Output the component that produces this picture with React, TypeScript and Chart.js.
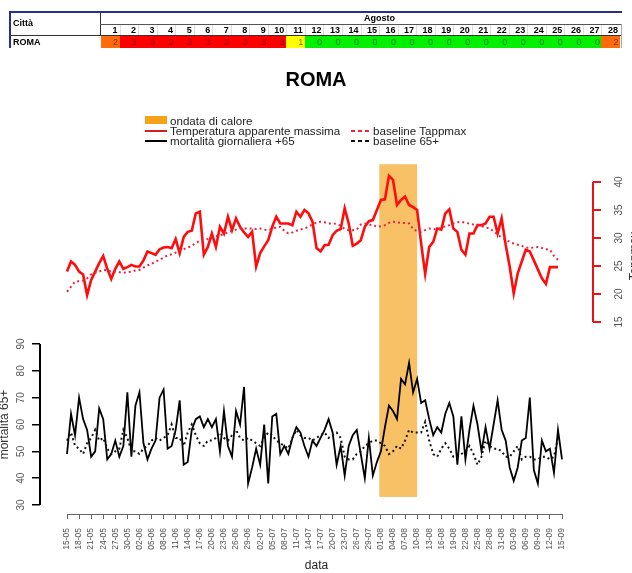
import React, { useEffect, useRef } from "react";
import { Chart, registerables } from "chart.js";

Chart.register(...registerables);
Chart.defaults.font.family = "'Liberation Sans', Arial, sans-serif";

// ---- table (heat-wave warning levels, August) ----
const tableDays = [1, 2, 3, 4, 5, 6, 7, 8, 9, 10, 11, 12, 13, 14, 15, 16, 17, 18, 19, 20, 21, 22, 23, 24, 25, 26, 27, 28];
const romaLevels = [2, 3, 3, 3, 3, 3, 3, 3, 3, 3, 1, 0, 0, 0, 0, 0, 0, 0, 0, 0, 0, 0, 0, 0, 0, 0, 0, 2];
const levelColors = ["#00f000", "#ffff00", "#ff6a0a", "#ff0000"];
const levelText = ["#1f7a1f", "#7a7a00", "#8a3500", "#8a0000"];

// ---- x axis tick labels (every 3 days, 15-05 .. 15-09) ----
const tickLabels = [
  "15-05", "18-05", "21-05", "24-05", "27-05", "30-05",
  "02-06", "05-06", "08-06", "11-06", "14-06", "17-06", "20-06", "23-06", "26-06", "29-06",
  "02-07", "05-07", "08-07", "11-07", "14-07", "17-07", "20-07", "23-07", "26-07", "29-07",
  "01-08", "04-08", "07-08", "10-08", "13-08", "16-08", "19-08", "22-08", "25-08", "28-08", "31-08",
  "03-09", "06-09", "09-09", "12-09", "15-09",
];

// ---- series (one value per day from 15-05) ----
const tappmax = [
  24.0, 25.8, 25.2, 24.0, 23.5, 19.8, 22.5, 24.0, 25.5, 26.8,
  24.5, 22.7, 24.5, 25.8, 24.5, 24.8, 25.2, 24.9, 24.9, 26.0,
  27.6, 27.3, 27.0, 28.0, 28.3, 28.4, 28.2, 29.8, 27.3, 30.2,
  31.1, 31.3, 34.4, 34.7, 27.0, 28.4, 30.8, 28.4, 32.0, 30.8,
  33.8, 31.4, 33.5, 32.0, 31.0, 30.2, 31.1, 24.9, 27.3, 28.5,
  29.6, 32.0, 33.8, 32.6, 32.6, 32.6, 32.3, 34.7, 33.8, 35.0,
  34.4, 32.9, 28.2, 27.6, 28.7, 28.8, 30.5, 31.3, 31.6, 35.3,
  32.6, 28.6, 29.0, 29.6, 32.0, 33.0, 33.2, 35.0, 36.8, 36.9,
  41.1, 40.4, 35.9, 36.8, 37.4, 35.9, 35.5, 35.0, 29.0, 23.6,
  28.4, 29.3, 31.7, 31.5, 34.4, 35.1, 31.7, 31.1, 27.9, 27.0,
  30.8, 30.8, 32.3, 32.3, 32.6, 33.8, 33.8, 30.8, 33.5, 28.8,
  24.9, 20.1, 23.7, 25.8, 27.9, 27.6, 26.0, 24.4, 22.8, 21.8,
  24.8, 24.8, 24.8, null,
];
const tappmaxBaseline = [
  20.4, 21.3, 22.2, 22.3, 22.4, 22.8, 23.5, 23.8, 24.0, 24.3,
  24.2, 24.0, 24.0, 23.9, 23.8, 23.9, 24.0, 24.2, 24.3, 24.7,
  25.1, 25.4, 25.8, 26.1, 26.5, 26.9, 27.1, 27.4, 27.8, 28.0,
  28.3, 28.6, 29.1, 29.5, 29.7, 29.8, 30.0, 30.3, 30.5, 30.7,
  31.0, 31.3, 31.5, 31.7, 31.7, 31.7, 31.7, 31.6, 31.7, 31.5,
  31.4, 31.6, 31.9, 32.0, 31.3, 30.8, 31.0, 31.3, 31.5, 31.7,
  32.0, 32.4, 32.8, 32.9, 32.8, 32.6, 32.6, 32.5, 32.2, 31.6,
  31.4, 31.4, 31.5, 32.4, 32.6, 32.4, 32.3, 32.0, 32.1, 32.3,
  32.7, 32.9, 32.8, 32.7, 32.7, 32.6, 31.6, 31.2, 31.1, 31.4,
  31.7, 31.6, 31.5, 31.8, 32.1, 32.3, 32.6, 32.8, 32.9, 32.7,
  32.6, 32.4, 32.3, 32.1, 31.9, 31.7, 31.2, 30.6, 30.1, 29.7,
  29.3, 29.0, 28.8, 28.6, 28.3, 28.2, 28.3, 28.4, 28.2, 28.0,
  27.9, 26.8, 26.1, null,
];
const mortality = [
  49, 64, 56, 70, 62, 58, 48, 50, 66, 62,
  47, 49, 54, 48, 52, 72, 48, 67, 72, 53,
  47, 51, 54, 70, 73, 51, 52, 58, 69, 45,
  46, 58, 62, 63, 59, 62, 59, 62, 50, 65,
  52, 48, 65, 60, 74, 38, 44, 51, 45, 60,
  38, 63, 64, 49, 52, 49, 55, 59, 57, 52,
  48, 54, 52, 55, 58, 62, 57, 45, 52, 41,
  52, 56, 58, 49, 40, 55, 41, 46, 50, 59,
  67, 65, 62, 77, 75, 83, 72, 77, 68, 69,
  62, 56, 59, 57, 64, 68, 63, 45, 63, 47,
  58, 67, 60, 50, 59, 51, 60, 69, 58, 54,
  44, 39, 44, 54, 55, 70, 43, 38, 54, 50,
  51, 42, 58, 47,
];
const mortalityBaseline = [
  54, 57, 52, 51, 49, 53, 55, 58, 54, 55,
  51, 49, 50, 51, 58, 55, 50, 50, 49, 51,
  52, 54, 55, 54, 55, 56, 60, 55, 55, 52,
  57, 60, 56, 53, 52, 54, 54, 55, 57, 55,
  54, 56, 58, 55, 54, 55, 54, 53, 52, 55,
  57, 56, 54, 53, 52, 51, 55, 58, 56, 55,
  55, 54, 55, 56, 57, 55, 56, 57, 55, 48,
  47, 47, 49, 50, 52, 53, 54, 54, 53, 52,
  49, 50, 52, 51, 54, 58, 57, 57, 57, 61,
  54, 49, 48, 51, 53, 51, 48, 48, 49, 50,
  52, 49, 45, 48, 54, 52, 51, 51, 50, 48,
  48, 50, 52, 47, 48, 48, 47, 47, 48, 48,
  47, 48, 55, null,
];

// heat wave (ondata di calore) span, in day index, and its vertical extent on the mortality axis
const heatWaveSpan = [77.6, 87.0];
const heatWaveMortRange = [33, 157];

const mortTicks = [30, 40, 50, 60, 70, 80, 90];
const tempTicks = [15, 20, 25, 30, 35, 40];

const toXY = (arr: (number | null)[]) => arr.map((y, x) => ({ x, y }));

const decorPlugin = {
  id: "decor",
  beforeDatasetsDraw(chart: any) {
    const { ctx, scales } = chart;
    const x = scales.x;
    const yM = scales.yM;
    const x0 = x.getPixelForValue(heatWaveSpan[0]);
    const x1 = x.getPixelForValue(heatWaveSpan[1]);
    const yb = yM.getPixelForValue(heatWaveMortRange[0]);
    const yt = yM.getPixelForValue(heatWaveMortRange[1]);
    ctx.save();
    ctx.fillStyle = "#f9c165";
    ctx.fillRect(x0, yt, x1 - x0, yb - yt);
    ctx.restore();
  },
  afterDraw(chart: any) {
    const { ctx, scales, chartArea } = chart;
    const x = scales.x;
    const yM = scales.yM;
    const yT = scales.yT;
    ctx.save();
    // left axis line
    ctx.strokeStyle = "#000";
    ctx.lineWidth = 2;
    ctx.beginPath();
    ctx.moveTo(chartArea.left, yM.getPixelForValue(mortTicks[0]));
    ctx.lineTo(chartArea.left, yM.getPixelForValue(mortTicks[mortTicks.length - 1]));
    ctx.stroke();
    // right axis line
    ctx.strokeStyle = "#ee1111";
    ctx.beginPath();
    ctx.moveTo(chartArea.right, yT.getPixelForValue(tempTicks[0]));
    ctx.lineTo(chartArea.right, yT.getPixelForValue(tempTicks[tempTicks.length - 1]));
    ctx.stroke();
    // bottom axis line
    ctx.strokeStyle = "#666";
    ctx.lineWidth = 1;
    ctx.beginPath();
    ctx.moveTo(x.getPixelForValue(0), chartArea.bottom + 0.5);
    ctx.lineTo(x.getPixelForValue((tickLabels.length - 1) * 3), chartArea.bottom + 0.5);
    ctx.stroke();
    // axis titles
    ctx.fillStyle = "#333";
    ctx.font = "12px 'Liberation Sans', Arial, sans-serif";
    ctx.textAlign = "center";
    ctx.textBaseline = "middle";
    const lc = (yM.getPixelForValue(mortTicks[0]) + yM.getPixelForValue(mortTicks[mortTicks.length - 1])) / 2;
    ctx.save();
    ctx.translate(5, lc);
    ctx.rotate(-Math.PI / 2);
    ctx.fillText("mortalità 65+", 0, 0);
    ctx.restore();
    const rc = (yT.getPixelForValue(tempTicks[0]) + yT.getPixelForValue(tempTicks[tempTicks.length - 1])) / 2;
    ctx.save();
    ctx.translate(635, rc + 4);
    ctx.rotate(-Math.PI / 2);
    ctx.fillText("Tappmax", 0, 0);
    ctx.restore();
    ctx.restore();
  },
};

function HeatTable() {
  const colW = (620 - 101) / tableDays.length;
  const navy = "#25308a";
  const f = "'Liberation Sans', Arial, sans-serif";
  return (
    <div style={{ position: "absolute", left: 0, top: 0, width: 632, height: 50, fontFamily: f, zIndex: 2 }}>
      <div style={{ position: "absolute", left: 10, top: 11, width: 612, height: 2, background: navy }} />
      <div style={{ position: "absolute", left: 9, top: 11, width: 2, height: 37, background: navy }} />
      <div style={{ position: "absolute", left: 100, top: 13, width: 1, height: 23, background: "#333" }} />
      <div style={{ position: "absolute", left: 100, top: 24, width: 522, height: 1, background: "#555" }} />
      <div style={{ position: "absolute", left: 11, top: 35, width: 611, height: 1, background: "#333" }} />
      <div style={{ position: "absolute", left: 621, top: 24, width: 1, height: 24, background: "#aaa" }} />
      <div style={{ position: "absolute", left: 13, top: 18, fontSize: 9, fontWeight: "bold", lineHeight: "10px" }}>Città</div>
      <div style={{ position: "absolute", left: 13, top: 37, fontSize: 9, fontWeight: "bold", lineHeight: "11px" }}>ROMA</div>
      <div style={{ position: "absolute", left: 364, top: 13, fontSize: 9, fontWeight: "bold", lineHeight: "10px" }}>Agosto</div>
      {tableDays.map((d, i) => (
        <React.Fragment key={d}>
          <div
            style={{
              position: "absolute",
              left: 101 + i * colW,
              top: 25,
              width: colW,
              height: 10,
              fontSize: 9,
              fontWeight: "bold",
              lineHeight: "10px",
              textAlign: "right",
              boxSizing: "border-box",
              paddingRight: 2,
              borderLeft: i > 0 ? "1px solid #ddd" : "none",
            }}
          >
            {d}
          </div>
          <div
            style={{
              position: "absolute",
              left: 101 + i * colW,
              top: 36,
              width: colW + 0.5,
              height: 12,
              background: levelColors[romaLevels[i]],
              color: levelText[romaLevels[i]],
              fontSize: 9,
              lineHeight: "12px",
              textAlign: "right",
              boxSizing: "border-box",
              paddingRight: 2,
            }}
          >
            {romaLevels[i]}
          </div>
        </React.Fragment>
      ))}
    </div>
  );
}

function Legend() {
  const f = "'Liberation Sans', Arial, sans-serif";
  const txt = (left: number, cy: number, s: string) => (
    <div style={{ position: "absolute", left, top: cy - 7, fontSize: 11.6, lineHeight: "13px", color: "#222", fontFamily: f, whiteSpace: "nowrap" }}>{s}</div>
  );
  const dash = (color: string) => `repeating-linear-gradient(90deg, ${color} 0px, ${color} 4px, transparent 4px, transparent 7px)`;
  return (
    <div style={{ position: "absolute", left: 0, top: 0, width: 632, height: 160, zIndex: 2 }}>
      <div style={{ position: "absolute", left: 145, top: 116, width: 22, height: 8, background: "#f7a21b" }} />
      {txt(170, 121, "ondata di calore")}
      <div style={{ position: "absolute", left: 145, top: 130, width: 22, height: 1.5, background: "#d42020" }} />
      {txt(170, 131, "Temperatura apparente massima")}
      <div style={{ position: "absolute", left: 145, top: 140, width: 22, height: 1.5, background: "#000" }} />
      {txt(170, 141, "mortalità giornaliera +65")}
      <div style={{ position: "absolute", left: 351, top: 130, width: 18, height: 2, background: dash("#e5263f") }} />
      {txt(373, 131, "baseline Tappmax")}
      <div style={{ position: "absolute", left: 351, top: 140, width: 18, height: 2, background: dash("#111") }} />
      {txt(373, 141, "baseline 65+")}
    </div>
  );
}

export default function App() {
  const ref = useRef<HTMLCanvasElement | null>(null);
  useEffect(() => {
    if (!ref.current) return;
    const chart = new Chart(ref.current, {
      type: "line",
      data: {
        datasets: [
          {
            label: "baseline Tappmax",
            data: toXY(tappmaxBaseline),
            yAxisID: "yT",
            borderColor: "#e5263f",
            borderWidth: 2,
            borderDash: [2, 3],
            pointRadius: 0,
            spanGaps: false,
          },
          {
            label: "baseline 65+",
            data: toXY(mortalityBaseline),
            yAxisID: "yM",
            borderColor: "#111",
            borderWidth: 2,
            borderDash: [2, 3],
            pointRadius: 0,
          },
          {
            label: "mortalità giornaliera +65",
            data: toXY(mortality),
            yAxisID: "yM",
            borderColor: "#000",
            borderWidth: 1.8,
            pointRadius: 0,
          },
          {
            label: "Temperatura apparente massima",
            data: toXY(tappmax),
            yAxisID: "yT",
            borderColor: "#ff0c0c",
            borderWidth: 2.6,
            pointRadius: 0,
          },
        ],
      } as any,
      options: {
        responsive: false,
        animation: false,
        layout: { padding: 0 },
        plugins: {
          legend: { display: false },
          tooltip: { enabled: false },
          title: {
            display: true,
            text: "ROMA",
            color: "#000",
            font: { size: 20, weight: "bold" },
            padding: { top: 68, bottom: 71 },
          },
        },
        scales: {
          x: {
            type: "linear",
            min: -6.709,
            max: 130.7,
            afterBuildTicks: (s: any) => {
              s.ticks = tickLabels.map((_, i) => ({ value: i * 3 }));
            },
            afterFit: (s: any) => {
              s.height = 59;
            },
            ticks: {
              autoSkip: false,
              minRotation: 90,
              maxRotation: 90,
              padding: 9,
              color: "#555",
              font: { size: 8.5 },
              callback: (_v: any, i: number) => tickLabels[i],
            },
            grid: { drawOnChartArea: false, drawTicks: true, tickLength: 5, color: "#666", lineWidth: 1 },
            border: { display: false },
            title: { display: true, text: "data", color: "#222", font: { size: 12 }, padding: 0 },
          },
          yM: {
            type: "linear",
            position: "left",
            min: 26.646,
            max: 157.45,
            afterBuildTicks: (s: any) => {
              s.ticks = mortTicks.map((v) => ({ value: v }));
            },
            afterFit: (s: any) => {
              s.width = 40;
            },
            ticks: { minRotation: 90, maxRotation: 90, crossAlign: "center", padding: 5, color: "#555", font: { size: 10 } },
            grid: { drawOnChartArea: false, drawTicks: true, tickLength: 8, color: "#000", lineWidth: 1.5 },
            border: { display: false },
          },
          yT: {
            type: "linear",
            position: "right",
            min: -19.286,
            max: 43.393,
            afterBuildTicks: (s: any) => {
              s.ticks = tempTicks.map((v) => ({ value: v }));
            },
            afterFit: (s: any) => {
              s.width = 39;
            },
            ticks: { minRotation: 90, maxRotation: 90, crossAlign: "center", padding: 13, color: "#555", font: { size: 10 } },
            grid: { drawOnChartArea: false, drawTicks: true, tickLength: 8, color: "#ee1111", lineWidth: 2 },
            border: { display: false },
          },
        },
      } as any,
      plugins: [decorPlugin],
    });
    return () => chart.destroy();
  }, []);

  return (
    <div style={{ position: "absolute", left: 0, top: 0, width: 632, height: 573, overflow: "hidden", background: "#fff" }}>
      <canvas ref={ref} width={632} height={573} style={{ position: "absolute", left: 0, top: 0, width: 632, height: 573 }} />
      <HeatTable />
      <Legend />
    </div>
  );
}
